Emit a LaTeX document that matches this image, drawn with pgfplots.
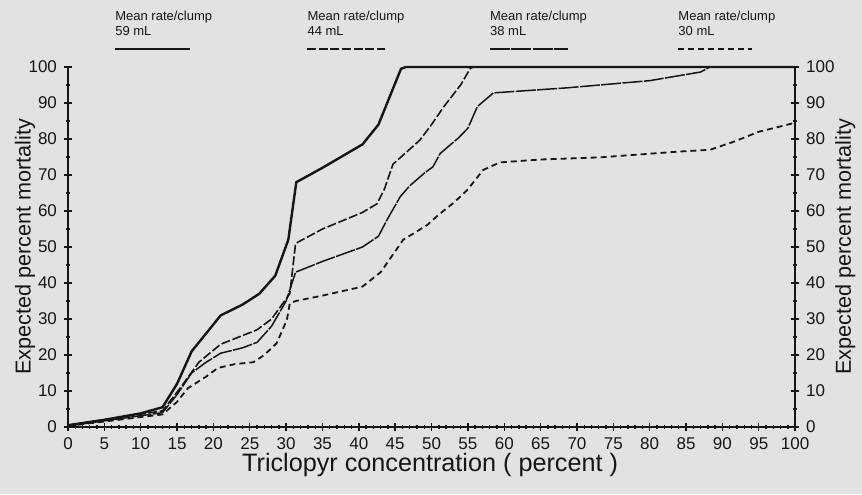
\documentclass[border=0pt]{standalone}
\usepackage{fontspec}
\setmainfont{Liberation Sans}
\usepackage{pgfplots}
\pgfplotsset{compat=1.18}
\usetikzlibrary{backgrounds}
\definecolor{bgc}{HTML}{E2E2E2}
\definecolor{ink}{HTML}{151515}
\pgfplotsset{
  common/.style={
    width=363.5pt, height=180pt, scale only axis,
    xmin=0, xmax=100, ymin=0, ymax=100, clip=false,
    tick align=center, major tick length=4pt, minor tick length=2pt,
    /pgf/number format/assume math mode=true,
    tick label style={font=\fontsize{8.5}{9}\selectfont, text=ink},
    axis line style={ink, line width=0.9pt},
    every tick/.style={ink, line width=0.7pt},
    ytick={0,10,...,100}, minor y tick num=1,
    label style={text=ink},
  }
}
\tikzset{
  s59/.style={ink, line width=1.2pt},
  s44/.style={ink, line width=0.8pt, dash pattern=on 4.5pt off 1.3pt},
  s38/.style={ink, line width=0.75pt, dash pattern=on 10pt off 0.7pt},
  s30/.style={ink, line width=0.9pt, dash pattern=on 3pt off 2pt},
  legtxt/.style={anchor=west, inner sep=0pt, font=\fontsize{6.5}{7.5}\selectfont, text=ink, align=left},
}
\begin{document}
\begin{tikzpicture}
\begin{axis}[common,
  axis x line*=bottom, axis y line*=left,
  xtick={0,5,...,100}, minor x tick num=4,
  xlabel={Triclopyr concentration ( percent )},
  xlabel style={font=\fontsize{12.6}{13}\selectfont, at={(axis description cs:0.498,-0.106)}, anchor=center},
  ylabel={Expected percent mortality},
  ylabel style={font=\fontsize{10.8}{11}\selectfont, at={(axis description cs:-0.059,0.5)}, anchor=center},
]
\coordinate (bl) at (axis cs:-9.35,-18.6);
\coordinate (tr) at (axis cs:109.2,118.6);
% 59 mL
\addplot[s59] coordinates {
(0,0.5)(5,2)(10,3.8)(13,5.5)(15,12)(17,21)(19,26)(21,31)(24,34)(26.3,37)(28.5,42)(30.3,52)(31.4,68)(35,72)(40.5,78.5)(42.7,84)(44.5,93)(45.8,99.5)(46.5,100)(100,100)};
% 44 mL
\addplot[s44] coordinates {
(0,0.5)(13,4.5)(15.5,11)(18,18)(21,23)(26,27)(28,30)(30.5,37)(31.3,51)(35,55)(40.5,59.6)(42.5,62)(43.5,66)(44.7,73)(48.4,79.7)(50,84)(51.7,89)(54,95)(55.3,99.5)(55.7,100)(100,100)};
% 38 mL
\addplot[s38] coordinates {
(0,0.3)(13,4)(15,9)(17,15)(19,18)(21,20.5)(24,22)(26,23.5)(28,28)(30,35)(31.3,43)(35,46)(40.5,50)(42.7,53)(44,58)(45.7,64)(47,67)(49,70.5)(50.2,72.3)(51.2,76)(53.7,80.3)(55,83)(56.3,89)(58.5,92.8)(68.6,94.2)(80,96.2)(87,98.6)(88.3,100)(100,100)};
% 30 mL
\addplot[s30] coordinates {
(0,0.3)(13,3.5)(15,7)(16.5,10.8)(19,14)(20.6,16.4)(23,17.5)(25.5,18)(27,20)(28.7,23.3)(30.1,29.7)(30.5,34.3)(31.3,35)(35,36.5)(40.5,39)(43,43)(46.1,52)(49.4,56.1)(51,59)(53,62.2)(54.9,65.8)(57.1,71.4)(59.4,73.5)(65,74.3)(73.2,74.9)(84,76.5)(88.3,77)(91.5,79.2)(95,82)(100,84.5)};
% legend
\node[legtxt] at (axis cs:6.46,112.1) {Mean rate/clump\\59 mL};
\draw[s59] (axis cs:6.46,105) -- (axis cs:16.8,105);
\node[legtxt] at (axis cs:32.9,112.1) {Mean rate/clump\\44 mL};
\draw[s44] (axis cs:32.9,105) -- (axis cs:43.6,105);
\node[legtxt] at (axis cs:58.0,112.1) {Mean rate/clump\\38 mL};
\draw[s38] (axis cs:58.0,105) -- (axis cs:68.8,105);
\node[legtxt] at (axis cs:83.9,112.1) {Mean rate/clump\\30 mL};
\draw[s30] (axis cs:83.9,105) -- (axis cs:94.1,105);
\end{axis}
\begin{axis}[common,
  axis x line=none, axis y line*=right,
  ylabel={Expected percent mortality},
  ylabel style={font=\fontsize{10.8}{11}\selectfont, at={(axis description cs:1.069,0.5)}, anchor=center, rotate=0},
]
\end{axis}
\pgfresetboundingbox
\path (bl) rectangle (tr);
\begin{scope}[on background layer]
\fill[bgc] (bl) rectangle (tr);
\end{scope}
\end{tikzpicture}
\end{document}
